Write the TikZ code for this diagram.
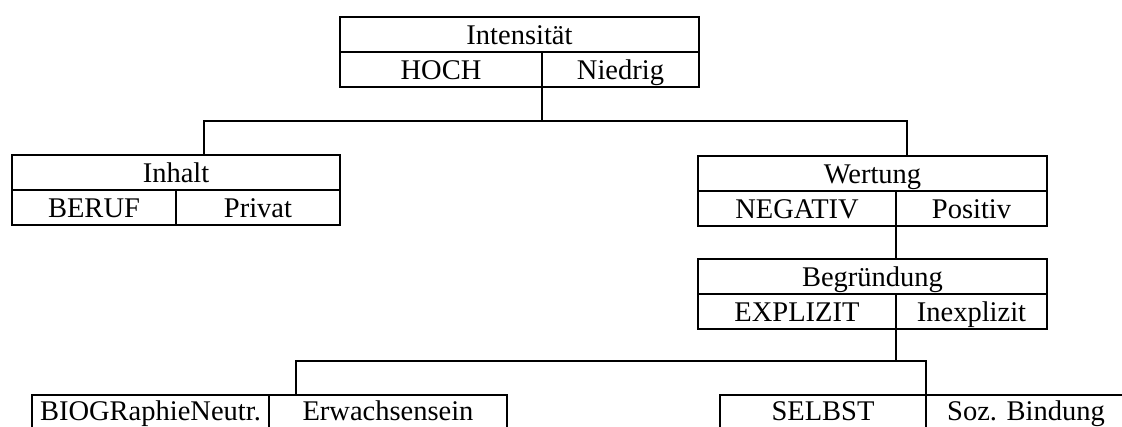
\documentclass[tikz,border=0pt]{standalone}
\usepackage{fontspec}
\setmainfont{Liberation Serif}
\begin{document}
\begin{tikzpicture}[x=1pt,y=-1pt,
  cell/.style={draw, line width=1.7pt, inner sep=0pt, outer sep=0pt, text height=27pt, text depth=8pt,
    minimum height=35pt, anchor=north west, font=\fontsize{28.5}{30}\selectfont},
  lowcell/.style={cell, text height=25pt, text depth=10pt},
  conn/.style={draw, line width=1.7pt, line cap=rect}]
\useasboundingbox (0,0) rectangle (1122,426);
\clip (0,0) rectangle (1122,426);
% Intensitaet
\node[cell, minimum width=359pt] (int) at (340,17) {Intensität};
\node[cell, minimum width=202pt] (hoch) at (340,52) {HOCH};
\node[cell, minimum width=157pt] (nied) at (542,52) {Niedrig};
% Inhalt
\node[cell, minimum width=328pt] (inh) at (12,155) {Inhalt};
\node[cell, minimum width=164pt] (beruf) at (12,190) {BERUF};
\node[cell, minimum width=164pt] (priv) at (176,190) {Privat};
% Wertung
\node[cell, minimum width=349pt] (wer) at (698,156) {Wertung};
\node[cell, minimum width=198pt] (neg) at (698,191) {NEGATIV};
\node[cell, minimum width=151pt] (pos) at (896,191) {Positiv};
% Begruendung
\node[cell, minimum width=349pt] (beg) at (698,259) {Begründung};
\node[cell, minimum width=198pt] (expl) at (698,294) {EXPLIZIT};
\node[cell, minimum width=151pt] (inex) at (896,294) {Inexplizit};
% bottom
\node[lowcell, minimum width=237pt] (bio) at (32,395) {BIOGRaphieNeutr.};
\node[lowcell, minimum width=238pt] (erw) at (269,395) {Erwachsensein};
\node[lowcell, minimum width=206pt] (selb) at (720,395) {SELBST};
\node[lowcell, minimum width=200pt] (soz) at (926,395) {Soz. Bindung};
% connectors
\coordinate (j1) at (542,121);
\coordinate (a1) at (204,155);
\coordinate (a2) at (907,156);
\draw[conn] (hoch.south east) -- (j1) -| (a1);
\draw[conn] (j1) -| (a2);
\draw[conn] (neg.south east) -- (beg.north west -| neg.south east);
\coordinate (j2) at (896,361);
\coordinate (b1) at (296,395);
\draw[conn] (expl.south east) -- (j2) -| (b1);
\draw[conn] (j2) -| (selb.north east);
\end{tikzpicture}
\end{document}
